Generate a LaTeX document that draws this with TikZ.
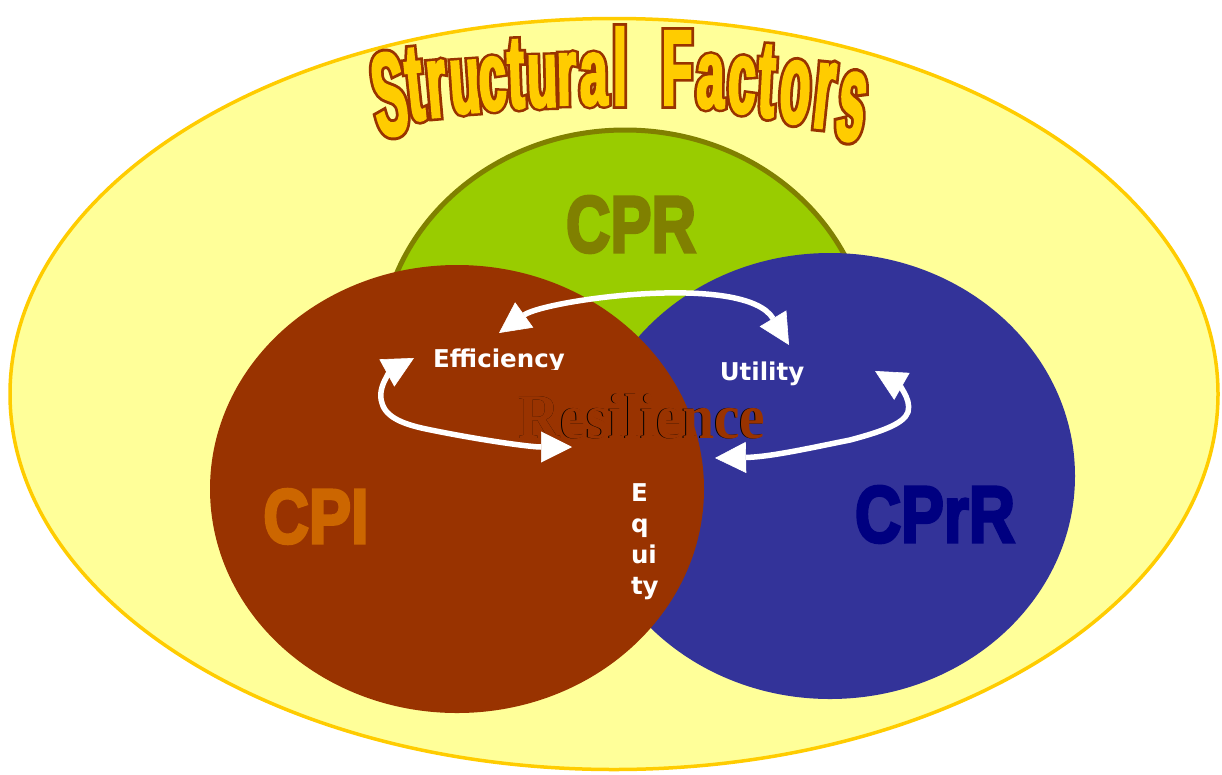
\documentclass[tikz,border=0pt]{standalone}
\usepackage{fontspec}
\usepackage{graphicx}
\usetikzlibrary{shapes.geometric,arrows.meta}
\setmainfont{Liberation Sans}
\newfontfamily\headfont{Liberation Sans}[BoldFeatures={FakeStretch=0.45,FakeBold=2}]
\newfontfamily\headedgefont{Liberation Sans}[BoldFeatures={FakeStretch=0.45,FakeBold=7}]
\newfontfamily\heavyfont{Liberation Sans}[BoldFeatures={FakeBold=4}]
\newfontfamily\tagfont{DejaVu Sans}
\newfontfamily\resfont{Liberation Serif}

\definecolor{paleyellow}{HTML}{FFFF99}
\definecolor{goldrim}{HTML}{FFCC00}
\definecolor{leafgreen}{HTML}{99CC00}
\definecolor{cprolive}{HTML}{808000}
\definecolor{rust}{HTML}{993300}
\definecolor{indigoblue}{HTML}{333399}
\definecolor{ochre}{HTML}{CC6600}
\definecolor{navyblue}{HTML}{000080}

\tikzset{
  blob/.style={ellipse, inner sep=0pt, outer sep=0pt},
  titleletter/.style={anchor=base, inner sep=0pt, outer sep=0pt, text=goldrim,
    font=\headfont\bfseries\fontsize{110}{110}\selectfont},
  titleedge/.style={anchor=base, inner sep=0pt, outer sep=0pt, text=rust,
    font=\headedgefont\bfseries\fontsize{110}{110}\selectfont},
  setlabel/.style={anchor=base, inner sep=0pt, outer sep=0pt,
    font=\heavyfont\bfseries\fontsize{#1}{#1}\selectfont},
  facetlabel/.style={text=white, inner sep=0pt, outer sep=0pt,
    font=\tagfont\bfseries\fontsize{24.5}{31}\selectfont},
  reslabel/.style={anchor=base, inner sep=0pt, outer sep=0pt,
    font=\resfont\bfseries\fontsize{64}{64}\selectfont},
  linkarrow/.style={draw=white, line width=5.5pt,
    {Triangle[length=31pt,width=31pt,line width=0.6pt]}-{Triangle[length=31pt,width=31pt,line width=0.6pt]}}
}

\begin{document}
\begin{tikzpicture}[x=1pt,y=-1pt]
\useasboundingbox[fill=white] (0,0) rectangle (1222,774);

% outer set and the three overlapping sets
\node[blob, fill=paleyellow, draw=goldrim, line width=3.5pt,
      minimum width=1208pt, minimum height=751pt] (structural) at (614,394) {};
\node[blob, fill=leafgreen, draw=cprolive, line width=5pt,
      minimum width=490pt, minimum height=450pt] (cpr) at (625,355) {};
\node[blob, fill=indigoblue, minimum width=490pt, minimum height=446pt] (cprr) at (830,476) {};
\node[blob, fill=rust, minimum width=494pt, minimum height=448pt] (cpi) at (457,489) {};

% arched title: an emboldened rust copy under each gold letter
\foreach [count=\i] \ch/\px/\py/\rt/\sy in {
    S/395/135/8/1.08, t/418/120/6/1.0, r/439/117/5/0.95, u/467/113/4/0.9,
    c/494/110/3/0.9, t/517/108/2/0.95, u/543/107/1.5/0.88, r/567/105/1/0.88,
    a/594/105/0.5/0.88, l/620/105/0/0.98, F/677/105/0/0.98, a/710/108/-1/0.9,
    c/741/113/-2/0.95, t/765/117/-3/1.0, o/793/123/-4/1.05, r/821/128/-6/1.1,
    s/847/140/-8/1.15} {
  \node[titleedge, rotate=\rt] (title-edge-\i) at (\px,\py) {\scalebox{1}[\sy]{\ch}};
  \node[titleletter, rotate=\rt] (title-\i) at (\px,\py) {\scalebox{1}[\sy]{\ch}};
}

% set names
\node[setlabel=80, text=cprolive] (cprname) at (631,252) {\scalebox{0.77}[1]{CPR}};
\node[setlabel=77, text=ochre] (cpiname) at (316,543) {\scalebox{0.82}[1]{CPI}};
\node[setlabel=80, text=navyblue] (cprrname) at (935,542) {\scalebox{0.8}[1]{CPrR}};

% central word
\node[reslabel, text=black] (resedge) at (641.2,438) {\scalebox{0.9}[1]{Resilience}};
\node[reslabel, text=rust] (resilience) at (642,438) {\scalebox{0.9}[1]{Resilience}};

% facets
\begin{scope}
  \clip (400,330) rectangle (620,369);
  \node[facetlabel, anchor=base] (efficiency) at (499,367) {Efficiency};
\end{scope}
\node[facetlabel, anchor=base] (utility) at (762,380) {Utility};
\node[facetlabel, anchor=north west, align=left] (equity) at (631,484) {E\\q\\ui\\ty};

% two-way links between the facets
\coordinate (effTop) at (499,333);
\coordinate (utiTop) at (789,345);
\coordinate (effSide) at (414,358);
\coordinate (eqLeft) at (572,447);
\coordinate (utiSide) at (875,371);
\coordinate (eqRight) at (715,458);

\draw[linkarrow] (effTop) .. controls (545,300) and (745,272) .. (utiTop);
\draw[linkarrow] (effSide) .. controls (394,369) and (376,386) .. (382,403)
  .. controls (386,418) and (405,425) .. (431,430)
  .. controls (480,440) and (530,447) .. (eqLeft);
\draw[linkarrow] (utiSide) .. controls (896,383) and (912,398) .. (908,412)
  .. controls (904,424) and (880,432) .. (850,440)
  .. controls (810,448) and (770,457) .. (eqRight);
\end{tikzpicture}
\end{document}
